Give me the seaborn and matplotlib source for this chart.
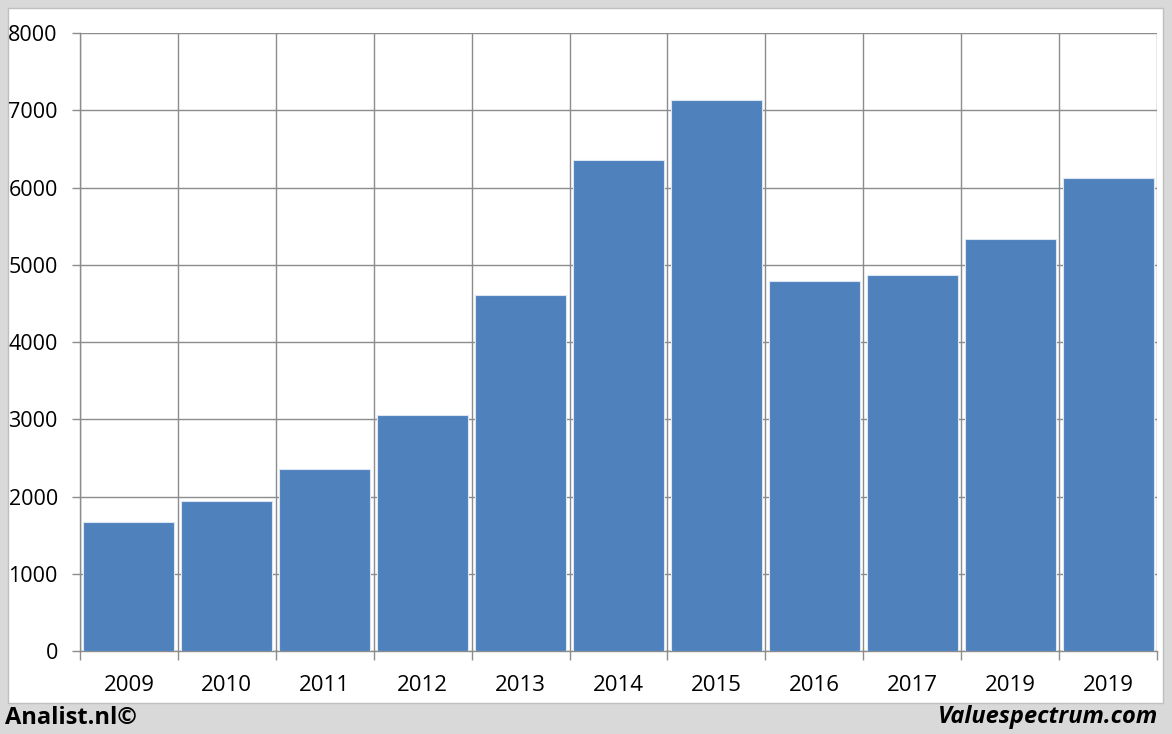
import matplotlib
matplotlib.use("Agg")
import matplotlib.pyplot as plt
import seaborn as sns
import numpy as np
from matplotlib.patches import Rectangle

years = ["2009", "2010", "2011", "2012", "2013", "2014", "2015", "2016", "2017", "2019", "2019"]
values = [1670, 1945, 2355, 3055, 4610, 6355, 7135, 4795, 4870, 5335, 6125]
yticks = [0, 1000, 2000, 3000, 4000, 5000, 6000, 7000, 8000]

sns.set_theme(style="white")
plt.rcParams['font.family'] = ['Open Sans', 'DejaVu Sans']

fig = plt.figure(figsize=(11.72, 7.34), dpi=100)
fig.patch.set_facecolor("#d9d9d9")
fig.add_artist(Rectangle((8/1172, 1 - 703/734), (1163-8)/1172, (703-8)/734,
                         transform=fig.transFigure, facecolor="white",
                         edgecolor="#bfbfbf", linewidth=1, zorder=0))

ax = fig.add_axes([80/1172, 1 - 651/734, (1157-80)/1172, (651-33)/734])
ax.set_facecolor("none")

pos = list(range(len(values)))
sns.barplot(x=pos, y=values, ax=ax, color="#4F81BD", saturation=1, width=0.93,
            edgecolor="#dce6f2", linewidth=0.8, zorder=3)

ax.set_xlim(-0.5, len(values) - 0.5)
ax.set_ylim(0, 8000)
ax.set_yticks(yticks)
ax.set_yticklabels([str(v) for v in yticks])
ax.set_xticks(pos)
ax.set_xticklabels(years)
ax.set_xticks(np.arange(-0.5, len(values), 1.0), minor=True)

ax.grid(axis="y", which="major", color="#8c8c8c", linewidth=1, zorder=0)
ax.grid(axis="x", which="minor", color="#8c8c8c", linewidth=1, zorder=0)
ax.grid(axis="x", which="major", visible=False)

ax.tick_params(axis="x", which="major", length=0, pad=17, labelsize=16, colors="black")
ax.tick_params(axis="x", which="minor", length=6.5, width=1, color="#8c8c8c", direction="out", bottom=True)
ax.tick_params(axis="y", which="major", length=6, width=1, color="#8c8c8c", pad=10, labelsize=15.5, colors="black", left=True)
for lab in ax.get_yticklabels() + ax.get_xticklabels():
    lab.set_color("black")

for s in ["top", "right"]:
    ax.spines[s].set_visible(False)
for s in ["left", "bottom"]:
    ax.spines[s].set_color("#8c8c8c")
    ax.spines[s].set_linewidth(1)
ax.set_xlabel("")
ax.set_ylabel("")

fig.text(5/1172, 1 - 718/734, "Analist.nl©", fontsize=17, fontweight="bold",
         ha="left", va="center", color="black")
fig.text(1158/1172, 1 - 717/734, "Valuespectrum.com", fontsize=17, fontweight="bold",
         fontstyle="italic", ha="right", va="center", color="black")

fig.savefig("out.png", dpi=100, facecolor=fig.get_facecolor())
